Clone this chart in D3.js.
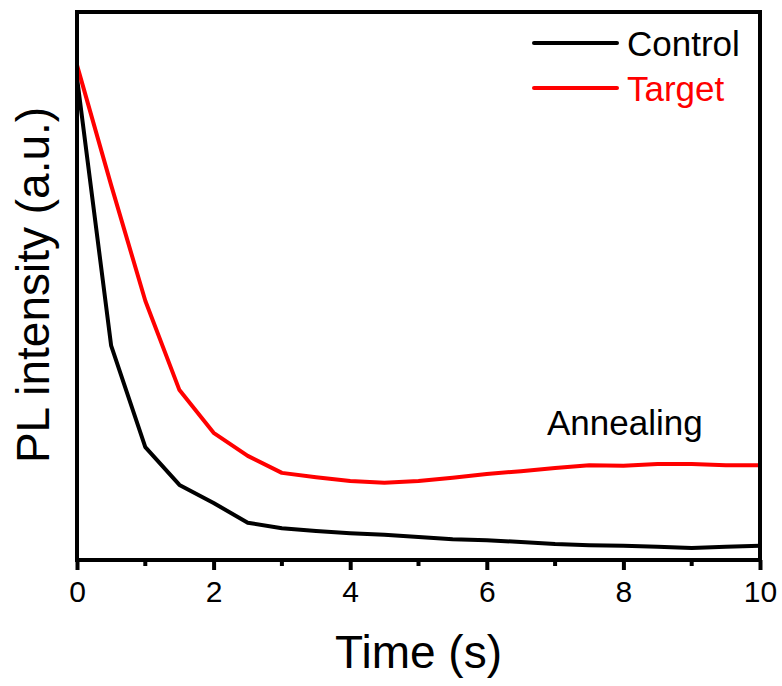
<!DOCTYPE html>
<html>
<head>
<meta charset="utf-8">
<script src="https://cdn.jsdelivr.net/npm/d3@7"></script>
<style>
  body { margin: 0; background: #fff; }
  svg { display: block; font-family: "Liberation Sans", Arial, sans-serif; }
</style>
</head>
<body>
<script>
// time points (s)
var times = [0, 0.5, 1, 1.5, 2, 2.5, 3, 3.5, 4, 4.5, 5, 5.5, 6, 6.5, 7, 7.5, 8, 8.5, 9, 9.5, 10];

// PL intensity, arbitrary units
var control = [0.880, 0.391, 0.206, 0.137, 0.104, 0.068, 0.058, 0.053, 0.049, 0.046, 0.042,
               0.038, 0.036, 0.033, 0.029, 0.027, 0.026, 0.024, 0.022, 0.024, 0.026];
var target = [0.903, 0.684, 0.473, 0.310, 0.232, 0.190, 0.159, 0.151, 0.144, 0.141, 0.144,
              0.150, 0.157, 0.162, 0.168, 0.173, 0.172, 0.175, 0.175, 0.173, 0.173];

var seriesNames = ['Control', 'Target'];
var seriesColors = ['#000000', '#ff0000'];
var majorTicks = [0, 2, 4, 6, 8, 10];
var minorTicks = [1, 3, 5, 7, 9];

var width = 782, height = 686;
var plotLeft = 77, plotRight = 760, plotTop = 12, plotBottom = 560;

var x = d3.scaleLinear().domain([0, 10]).range([plotLeft, plotRight]);
var y = d3.scaleLinear().domain([0, 1]).range([plotBottom, plotTop]);

var svg = d3.select('body')
    .append('svg')
    .attr('width', width)
    .attr('height', height);

var line = d3.line()
    .x(function(d) { return x(d.t); })
    .y(function(d) { return y(d.v); });

var allSeries = [control, target];
allSeries.forEach(function(vals, i) {
    var pts = times.map(function(t, j) { return {t: t, v: vals[j]}; });
    svg.append('path')
        .attr('d', line(pts))
        .attr('fill', 'none')
        .attr('stroke', seriesColors[i])
        .attr('stroke-width', 4)
        .attr('stroke-linejoin', 'round');
});

// frame
svg.append('rect')
    .attr('x', plotLeft)
    .attr('y', plotTop)
    .attr('width', plotRight - plotLeft)
    .attr('height', plotBottom - plotTop)
    .attr('fill', 'none')
    .attr('stroke', '#000')
    .attr('stroke-width', 4);

// bottom axis
var xAxis = d3.axisBottom(x)
    .tickValues(majorTicks)
    .tickSizeInner(10)
    .tickSizeOuter(0)
    .tickPadding(11)
    .tickFormat(d3.format('d'));

var gx = svg.append('g')
    .attr('transform', 'translate(0,' + plotBottom + ')')
    .call(xAxis)
    .attr('font-size', 30)
    .attr('font-family', '"Liberation Sans", Arial, sans-serif');
gx.select('.domain').remove();
gx.selectAll('.tick line').attr('stroke-width', 4);
gx.selectAll('.tick text')
    .style('font-size', '30px')
    .attr('fill', '#000');

svg.append('g')
    .selectAll('line')
    .data(minorTicks)
    .enter()
    .append('line')
    .attr('x1', function(d) { return x(d); })
    .attr('x2', function(d) { return x(d); })
    .attr('y1', plotBottom)
    .attr('y2', plotBottom + 6)
    .attr('stroke', '#000')
    .attr('stroke-width', 4);

// axis titles
svg.append('text')
    .attr('x', (plotLeft + plotRight) / 2)
    .attr('y', 668)
    .attr('font-size', 46)
    .style('text-anchor', 'middle')
    .text('Time (s)');

svg.append('text')
    .attr('transform', 'translate(49,' + 285 + ') rotate(-90)')
    .attr('font-size', 46)
    .style('text-anchor', 'middle')
    .text('PL intensity (a.u.)');

// legend
seriesNames.forEach(function(name, i) {
    var ly = 43 + i * 45;
    svg.append('line')
        .attr('x1', 534)
        .attr('x2', 617)
        .attr('y1', ly)
        .attr('y2', ly)
        .attr('stroke', seriesColors[i])
        .attr('stroke-width', 4)
        .attr('stroke-linecap', 'round');
    svg.append('text')
        .attr('x', 627)
        .attr('y', ly + 13)
        .attr('font-size', 35)
        .attr('fill', seriesColors[i])
        .text(name);
});

svg.append('text')
    .attr('x', 547)
    .attr('y', 435)
    .attr('font-size', 35)
    .text('Annealing');
</script>
</body>
</html>
